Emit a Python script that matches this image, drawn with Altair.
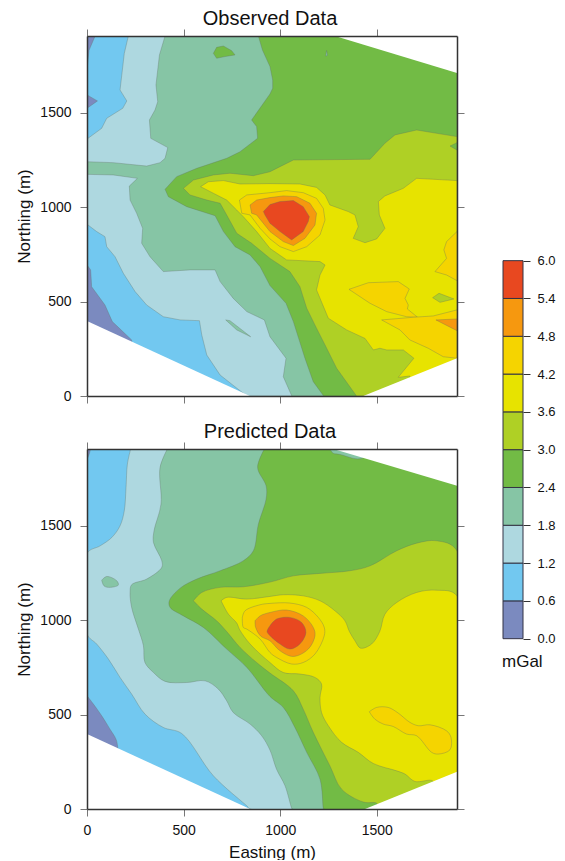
import altair as alt
import pandas as pd

FONT = "Liberation Sans"
LEVELS = [0.0, 0.6, 1.2, 1.8, 2.4, 3.0, 3.6, 4.2, 4.8, 5.4, 6.0]
COLORS = ["#7b8abf", "#72c8f0", "#aed8e0", "#86c5a5", "#72bb45",
          "#afd025", "#e7e300", "#f5d400", "#f6980f", "#e84820"]
XMAX, YMAX = 1915, 1907

# ---------- Observed ----------
o_base = [(0, 0), (1915, 0), (1915, 1907), (0, 1907)]
o_12 = [(214,1907),(193,1815),(171,1621),(206,1563),(185,1524),(102,1471),(76,1418),(0,1361),(0,910),(50,871),(93,844),(102,791),(145,738),(188,650),(249,553),(309,482),(395,420),(482,403),(582,399),(594,323),(620,217),(689,111),(766,49),(827,0),(1915,0),(1915,1907)]
o_18 = [(404,1907),(375,1807),(357,1648),(366,1559),(352,1515),(323,1462),(330,1365),(418,1316),(404,1259),(378,1236),(309,1218),(136,1236),(0,1241),(0,1174),(136,1171),(261,1153),(219,1112),(223,1038),(257,968),(288,888),(283,809),(326,738),(395,659),(533,668),(663,668),(689,606),(757,517),(827,447),(918,403),(947,314),(1030,200),(1016,102),(1060,0),(1915,0),(1915,1907)]
o_24 = [(887,1907),(908,1833),(947,1745),(961,1674),(961,1630),(947,1600),(852,1462),(878,1427),(883,1365),(792,1294),(723,1259),(568,1206),(464,1162),(404,1095),(421,1056),(516,1003),(663,955),(706,871),(766,791),(844,747),(896,685),(947,585),(1030,491),(1068,394),(1128,200),(1171,76),(1225,0),(1915,0),(1915,1907)]
o_30 = [(499,1100),(551,1144),(654,1171),(740,1180),(861,1167),(947,1188),(999,1215),(1068,1250),(1465,1254),(1542,1339),(1594,1383),(1706,1409),(1915,1374),(1915,0),(1395,0),(1292,147),(1232,270),(1188,359),(1137,465),(1102,579),(1050,659),(947,729),(852,809),(775,862),(723,959),(689,1021),(620,1038),(533,1065)]
o_36 = [(588,1109),(628,1135),(706,1141),(792,1123),(947,1125),(1102,1123),(1188,1105),(1232,1065),(1257,1012),(1352,977),(1387,959),(1404,897),(1378,835),(1439,812),(1499,832),(1542,888),(1513,959),(1508,1030),(1542,1060),(1637,1100),(1706,1153),(1915,1141),(1915,0),(1660,0),(1671,106),(1611,99),(1692,200),(1637,244),(1551,244),(1516,253),(1482,244),(1439,305),(1344,350),(1249,412),(1188,562),(1206,641),(1232,694),(1206,712),(1033,721),(947,782),(878,871),(809,950),(775,985),(723,1038),(654,1074)]
o_42a = [(789,1038),(827,1065),(947,1077),(1033,1088),(1119,1077),(1188,1047),(1223,994),(1232,932),(1206,853),(1137,791),(1068,765),(999,791),(947,832),(896,888),(844,959),(801,968)]
o_48 = [(844,1012),(878,1038),(947,1051),(1016,1060),(1085,1056),(1154,1021),(1188,968),(1180,906),(1128,835),(1068,797),(1016,818),(947,871),(878,959),(852,968)]
o_54 = [(913,977),(947,1014),(999,1030),(1068,1035),(1119,1003),(1151,950),(1145,924),(1119,871),(1059,827),(999,871),(947,915),(921,959)]
o_42b = [(1915,871),(1861,818),(1847,774),(1861,729),(1801,659),(1861,641),(1915,611)]
o_42c = [(1356,565),(1456,600),(1611,606),(1668,567),(1646,517),(1663,482),(1658,461),(1711,417),(1654,420),(1551,447),(1465,491)]
o_42d = [(1525,403),(1689,417),(1792,424),(1915,456),(1915,200),(1844,208),(1766,253),(1671,297),(1620,350)]
o_48b = [(1806,403),(1915,408),(1915,346)]
o_30b = [(1789,521),(1822,544),(1899,514),(1827,496)]
o_24b = [(1879,1324),(1915,1342),(1915,1303)]
o_24c = [(654,1815),(671,1847),(706,1854),(749,1829),(766,1807),(714,1798),(671,1789)]
o_18b = [(1235,1800),(1240,1830),(1245,1805)]
o_18c = [(718,403),(740,399),(847,314),(775,350)]
o_06a = [(0,1907),(42,1907),(10,1830),(0,1727)]
o_06b = [(0,1595),(54,1563),(0,1524)]
o_06c = [(0,694),(19,668),(24,579),(93,482),(131,394),(231,297),(260,0),(0,0)]

observed = [
    (1, o_base), (2, o_12), (3, o_18), (4, o_24), (5, o_30), (6, o_36),
    (7, o_42a), (8, o_48), (9, o_54), (7, o_42b), (7, o_42c), (7, o_42d),
    (8, o_48b), (5, o_30b), (4, o_24b), (4, o_24c), (3, o_18b), (3, o_18c),
    (0, o_06a), (0, o_06b), (0, o_06c),
]
o_masks = [
    [(0,397),(843,0),(0,0)],
    [(1430,0),(1915,200),(1915,0)],
    [(1283,1907),(1915,1711),(1915,1907)],
]

# ---------- Predicted ----------
p_base = [(0, 0), (1915, 0), (1915, 1907), (0, 1907)]
p_12 = [(226,1907),(209,1827),(202,1703),(193,1580),(171,1500),(128,1438),(68,1394),(0,1354),(0,927),(50,874),(111,794),(171,697),(231,609),(300,503),(395,432),(490,400),(654,176),(827,17),(845,0),(1915,0),(1915,1907)]
p_18 = [(416,1907),(378,1809),(383,1615),(347,1474),(344,1412),(387,1315),(387,1280),(309,1218),(231,1188),(223,1147),(231,1068),(266,953),(292,865),(300,776),(344,723),(404,676),(516,670),(611,679),(680,635),(723,573),(757,511),(844,450),(904,388),(947,312),(981,211),(1025,123),(1059,5),(1062,0),(1915,0),(1915,1907)]
p_24 = [(918,1907),(883,1809),(927,1712),(927,1642),(887,1509),(861,1368),(809,1315),(689,1262),(568,1218),(482,1170),(426,1103),(430,1068),(499,1023),(602,962),(723,847),(827,750),(947,596),(1016,538),(1076,432),(1137,300),(1206,158),(1223,5),(1225,0),(1915,0),(1915,1907)]
p_30 = [(551,1103),(594,1147),(689,1174),(809,1177),(947,1202),(1068,1235),(1206,1248),(1361,1262),(1465,1288),(1603,1368),(1706,1408),(1809,1421),(1915,1368),(1915,0),(1500,0),(1500,30),(1430,37),(1318,105),(1257,229),(1171,406),(1119,529),(1068,626),(947,720),(878,776),(792,856),(723,940),(671,997),(594,1059)]
p_36 = [(694,1103),(723,1121),(827,1112),(947,1126),(1016,1135),(1119,1129),(1206,1103),(1283,1050),(1335,997),(1358,940),(1387,891),(1416,852),(1473,874),(1515,940),(1542,1032),(1603,1094),(1706,1147),(1809,1159),(1915,1129),(1915,0),(1800,100),(1789,149),(1697,146),(1646,185),(1603,202),(1482,241),(1404,300),(1318,353),(1249,441),(1214,511),(1206,591),(1214,662),(1180,697),(1102,715),(1016,723),(947,776),(844,874),(790,950),(775,985),(732,1032)]
p_42a = [(804,1015),(818,1050),(896,1082),(947,1089),(1050,1091),(1137,1068),(1197,1015),(1228,962),(1228,918),(1180,821),(1119,776),(1059,768),(981,803),(947,829),(896,900),(827,953),(809,962)]
p_48 = [(870,997),(896,1023),(947,1041),(1033,1054),(1119,1023),(1171,962),(1180,918),(1145,847),(1068,808),(999,838),(947,891),(900,915),(873,962)]
p_54 = [(947,971),(981,1006),(1050,1015),(1111,988),(1133,935),(1102,874),(1050,847),(999,874),(947,918),(932,940)]
p_42b = [(1461,515),(1499,538),(1559,538),(1611,508),(1671,459),(1715,441),(1775,446),(1861,414),(1884,379),(1879,314),(1818,291),(1784,300),(1706,388),(1654,397),(1585,437),(1533,450),(1490,476)]
p_18b = [(76,1212),(102,1232),(154,1209),(162,1186),(111,1174),(88,1182)]
p_18c = [(1257,1907),(1275,1884),(1310,1878),(1413,1855),(1500,1907)]
p_06a = [(0,1907),(16,1907),(0,1854)]
p_06b = [(0,600),(33,556),(76,494),(119,423),(150,370),(159,326),(170,0),(0,0)]

predicted = [
    (1, p_base), (2, p_12), (3, p_18), (4, p_24), (5, p_30), (6, p_36),
    (7, p_42a), (8, p_48), (9, p_54), (7, p_42b), (3, p_18b), (3, p_18c),
    (0, p_06a), (0, p_06b),
]
p_masks = [
    [(0,397),(844,0),(0,0)],
    [(1439,0),(1915,197),(1915,0)],
    [(1275,1907),(1915,1712),(1915,1907)],
]
TICKS = [0, 500, 1000, 1500]


def frame(polys):
    rows = []
    for k, (band, pts) in enumerate(polys):
        closed = list(pts) + [pts[0]]
        for i, (x, y) in enumerate(closed):
            rows.append({"poly": f"p{k:02d}", "fill": COLORS[band], "i": i, "x": x, "y": y})
    return pd.DataFrame(rows)


def panel(title, polys, masks, labels, curve):
    xs = alt.Scale(domain=[0, XMAX], nice=False, zero=False)
    ys = alt.Scale(domain=[0, YMAX], nice=False, zero=False)
    ticks = dict(domainColor="#333333", domainWidth=1.5, tickColor="#777777", tickWidth=1,
                 tickSize=7, grid=False, zindex=2, labelFont=FONT, labelFontSize=14,
                 labelColor="#111111", titleFont=FONT, titleFontSize=17,
                 titleFontWeight="normal", titleColor="#111111", format="d",
                 labelFlush=False, labelOverlap=False)
    x_ax = alt.Axis(values=TICKS, labels=labels, orient="bottom", labelPadding=7, titlePadding=7,
                    title="Easting (m)" if labels else None, **ticks)
    y_ax = alt.Axis(values=TICKS, orient="left", labelPadding=9, titlePadding=6,
                    title="Northing (m)", **ticks)
    x_top = alt.Axis(values=TICKS, labels=False, orient="top", title=None, **ticks)
    y_right = alt.Axis(values=TICKS, labels=False, orient="right", title=None, **ticks)
    fills = alt.Chart(frame(polys)).mark_line(
        clip=True, stroke="#5f6f63", strokeWidth=0.6, strokeOpacity=0.55, interpolate=curve
    ).encode(
        x=alt.X("x:Q", scale=xs, axis=x_ax),
        y=alt.Y("y:Q", scale=ys, axis=y_ax),
        fill=alt.Fill("fill:N", scale=None),
        detail="poly:N",
        order=alt.Order("i:Q"),
    )
    m = pd.DataFrame([{"poly": f"m{k}", "i": i, "x": x, "y": y}
                      for k, pts in enumerate(masks) for i, (x, y) in enumerate(pts + [pts[0]])])
    mask = alt.Chart(m).mark_line(clip=True, fill="#ffffff", strokeWidth=0).encode(
        x=alt.X("x:Q", scale=xs, axis=x_top),
        y=alt.Y("y:Q", scale=ys, axis=y_right),
        detail="poly:N",
        order=alt.Order("i:Q"),
    )
    return alt.layer(fills, mask).resolve_axis(x="independent", y="independent").properties(
        width=370, height=360,
        title=alt.TitleParams(title, font=FONT, fontSize=20, fontWeight="normal", color="#111111",
                              offset=0, dx=-2),
    )


top = panel("Observed Data", observed, o_masks, False, "linear")
bottom = panel("Predicted Data", predicted, p_masks, True, "catmull-rom")

bar = pd.DataFrame({"a": LEVELS[:-1], "b": LEVELS[1:], "c": COLORS, "x0": [0] * 10, "x1": [1] * 10})
cb_scale = alt.Scale(domain=[-3.132, 9.566], nice=False, zero=False)
cb_axis = alt.Axis(values=LEVELS, format=".1f", orient="right", title=None, domain=False, grid=False,
                   tickColor="#333333", tickSize=7, labelFont=FONT, labelFontSize=13, labelPadding=7,
                   labelColor="#111111", labelOverlap=False, labelFlush=False)
rects = alt.Chart(bar).mark_rect(stroke="#333344", strokeWidth=1).encode(
    x=alt.X("x0:Q", scale=alt.Scale(domain=[0, 1]), axis=None),
    x2="x1:Q",
    y=alt.Y("a:Q", scale=cb_scale, axis=cb_axis),
    y2="b:Q",
    fill=alt.Fill("c:N", scale=None),
)
unit = alt.Chart(pd.DataFrame({"x": [0], "y": [-0.37], "t": ["mGal"]})).mark_text(
    align="left", baseline="middle", font=FONT, fontSize=17, color="#111111", dx=-1
).encode(x=alt.X("x:Q", scale=alt.Scale(domain=[0, 1]), axis=None),
         y=alt.Y("y:Q", scale=cb_scale, axis=cb_axis), text="t:N")
colorbar = alt.layer(rects, unit).properties(width=20, height=800)

left = alt.vconcat(top, bottom, spacing=17)
chart = alt.hconcat(left, colorbar, spacing=37).configure_view(stroke=None).properties(
    padding={"left": 7, "top": 0, "right": 0, "bottom": 0}
)
chart.save("out.html", embed_options={"renderer": "svg", "actions": False})
